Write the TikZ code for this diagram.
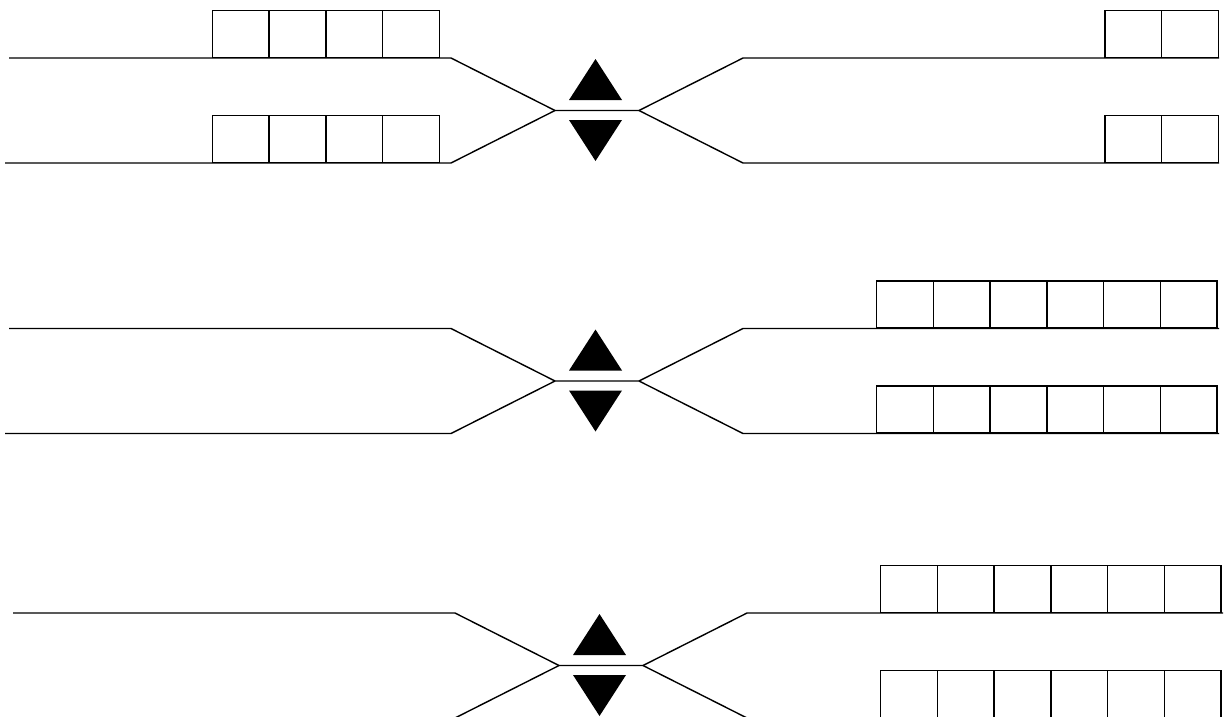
\documentclass[tikz,border=0pt]{standalone}
\usetikzlibrary{positioning}

\begin{document}
\begin{tikzpicture}[
    x=1pt, y=-1pt,
    lane/.style={line width=1.4pt},
    car/.style={rectangle, draw=black, line width=1.4pt, minimum width=56.7pt, minimum height=47pt, inner sep=0pt, anchor=south west},
    marker/.style={fill=black},
    crossing/.pic={
        % lane ends, bends and the narrow part
        \coordinate (-tl) at (9,58);
        \coordinate (-bl) at (5,163);
        \coordinate (-tlb) at (451,58);
        \coordinate (-blb) at (451,163);
        \coordinate (-nl) at (555,110.5);
        \coordinate (-nr) at (639,110.5);
        \coordinate (-trb) at (743,58);
        \coordinate (-brb) at (743,163);
        \coordinate (-tr) at (1219,58);
        \coordinate (-br) at (1219,163);
        \draw[lane] (-tl) -- (-tlb) -- (-nl) -- (-nr) -- (-trb) -- (-tr);
        \draw[lane] (-bl) -- (-blb) -- (-nl);
        \draw[lane] (-nr) -- (-brb) -- (-br);
        % direction markers
        \fill[marker] (569,100) -- (595.5,59) -- (622,100) -- cycle;
        \fill[marker] (569,120) -- (595.5,161) -- (622,120) -- cycle;
    }
]
\useasboundingbox (0,0) rectangle (1225,716);

% Top
\pic (p1) at (0,0) {crossing};
\foreach \i in {0,...,3} {
    \node[car] (p1-a\i) at (211.7+56.7*\i,58) {};
    \node[car] (p1-b\i) at (211.7+56.7*\i,163) {};
}
\foreach \i in {0,1} {
    \node[car] (p1-c\i) at (1104.3+56.7*\i,58) {};
    \node[car] (p1-d\i) at (1104.3+56.7*\i,163) {};
}

% Middle
\pic (p2) at (0,270.5) {crossing};
\foreach \i in {0,...,5} {
    \node[car] (p2-c\i) at (876+56.7*\i,328.5) {};
    \node[car] (p2-d\i) at (876+56.7*\i,433.5) {};
}

% Bottom
\pic (p3) at (4,555) {crossing};
\foreach \i in {0,...,5} {
    \node[car] (p3-c\i) at (880+56.7*\i,613) {};
    \node[car] (p3-d\i) at (880+56.7*\i,718) {};
}

\end{tikzpicture}
\end{document}
